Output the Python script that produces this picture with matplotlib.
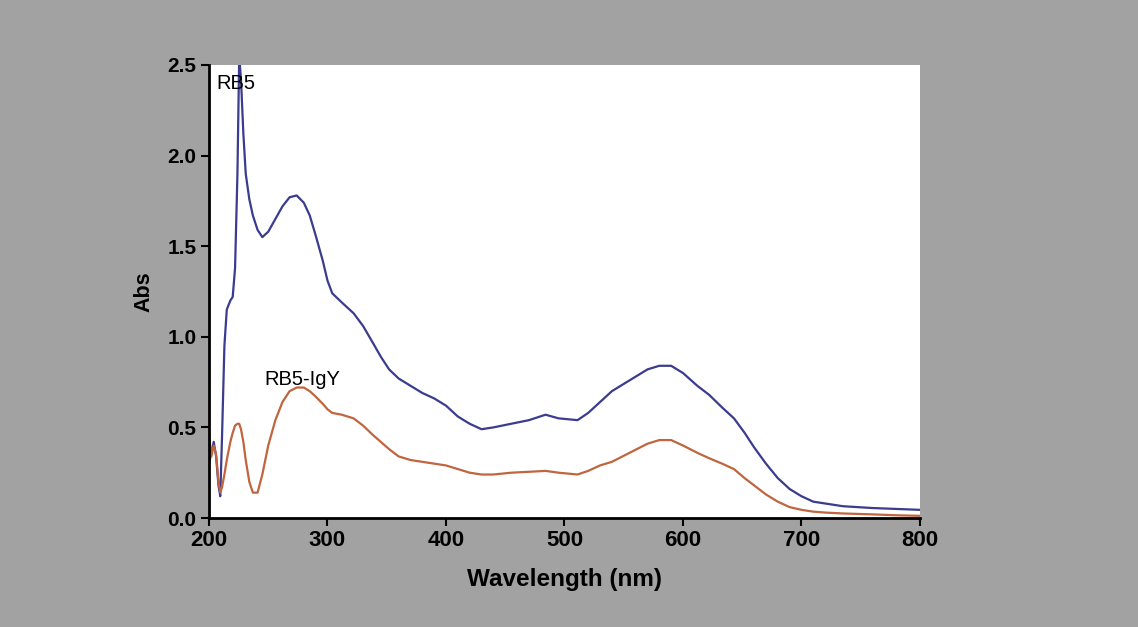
import matplotlib.pyplot as plt

# UV-vis spectra
wavelength = [200, 202, 204, 206, 208, 209.5, 211, 213, 215, 218, 220, 222, 224, 225.5,
              227, 229, 231, 234, 237, 241, 245, 250, 256, 262, 268, 274, 280, 285,
              290, 296, 300, 304, 312, 322, 330, 338, 345, 352, 360, 370, 380, 390,
              400, 410, 420, 430, 440, 455, 470, 484, 495, 511, 520, 530, 540, 555,
              570, 580, 590, 600, 612, 622, 633, 643, 652, 660, 670, 680, 690, 700,
              710, 720, 735, 760, 780, 800]

abs_rb5 = [0.30, 0.36, 0.42, 0.34, 0.18, 0.12, 0.45, 0.95, 1.15, 1.20, 1.22, 1.38, 1.90, 2.55,
           2.42, 2.12, 1.90, 1.76, 1.67, 1.59, 1.55, 1.58, 1.65, 1.72, 1.77, 1.78, 1.74, 1.67,
           1.56, 1.42, 1.31, 1.24, 1.19, 1.13, 1.06, 0.97, 0.89, 0.82, 0.77, 0.73, 0.69, 0.66,
           0.62, 0.56, 0.52, 0.49, 0.50, 0.52, 0.54, 0.57, 0.55, 0.54, 0.58, 0.64, 0.70, 0.76,
           0.82, 0.84, 0.84, 0.80, 0.73, 0.68, 0.61, 0.55, 0.47, 0.39, 0.30, 0.22, 0.16, 0.12,
           0.09, 0.08, 0.065, 0.055, 0.05, 0.045]

abs_rb5_igy = [0.46, 0.34, 0.40, 0.35, 0.20, 0.14, 0.17, 0.24, 0.32, 0.42, 0.47, 0.51, 0.52, 0.52,
               0.49, 0.42, 0.32, 0.20, 0.14, 0.14, 0.24, 0.40, 0.54, 0.64, 0.70, 0.72, 0.72, 0.70,
               0.67, 0.63, 0.60, 0.58, 0.57, 0.55, 0.51, 0.46, 0.42, 0.38, 0.34, 0.32, 0.31, 0.30,
               0.29, 0.27, 0.25, 0.24, 0.24, 0.25, 0.255, 0.26, 0.25, 0.24, 0.26, 0.29, 0.31, 0.36,
               0.41, 0.43, 0.43, 0.40, 0.36, 0.33, 0.30, 0.27, 0.22, 0.18, 0.13, 0.09, 0.06, 0.045,
               0.035, 0.03, 0.025, 0.02, 0.015, 0.012]

x_ticks = [200, 300, 400, 500, 600, 700, 800]
y_ticks = [0.0, 0.5, 1.0, 1.5, 2.0, 2.5]

plt.rcParams['font.family'] = ['Liberation Sans', 'DejaVu Sans']

fig = plt.figure(figsize=(11.38, 6.27), dpi=100, facecolor='#a2a2a2')
ax = fig.add_axes([209/1138, 1 - 518/627, (920 - 209)/1138, (518 - 65)/627])
ax.set_facecolor('white')

ax.plot(wavelength, abs_rb5, color='#3b3b8f', lw=1.6)
ax.plot(wavelength, abs_rb5_igy, color='#c0653e', lw=1.6)

ax.set_xlim(200, 800)
ax.set_ylim(0, 2.5)
ax.set_xticks(x_ticks)
ax.set_yticks(y_ticks)
ax.set_xticklabels([str(t) for t in x_ticks], fontsize=16, fontweight='bold')
ax.set_yticklabels(['%.1f' % t for t in y_ticks], fontsize=15, fontweight='bold')
ax.tick_params(direction='out', length=6, width=1.5, pad=3)

for side in ['top', 'right']:
    ax.spines[side].set_visible(False)
for side in ['left', 'bottom']:
    ax.spines[side].set_linewidth(2)

ax.set_xlabel('Wavelength (nm)', fontsize=17.5, fontweight='bold', labelpad=12)
ax.set_ylabel('Abs', fontsize=15.5, fontweight='bold', labelpad=9)

# curve labels
ax.text(206.5, 2.40, 'RB5', fontsize=14.5, va='center', ha='left')
ax.text(247, 0.765, 'RB5-IgY', fontsize=14.5, va='center', ha='left')

fig.savefig('out.png', dpi=100, facecolor=fig.get_facecolor())
